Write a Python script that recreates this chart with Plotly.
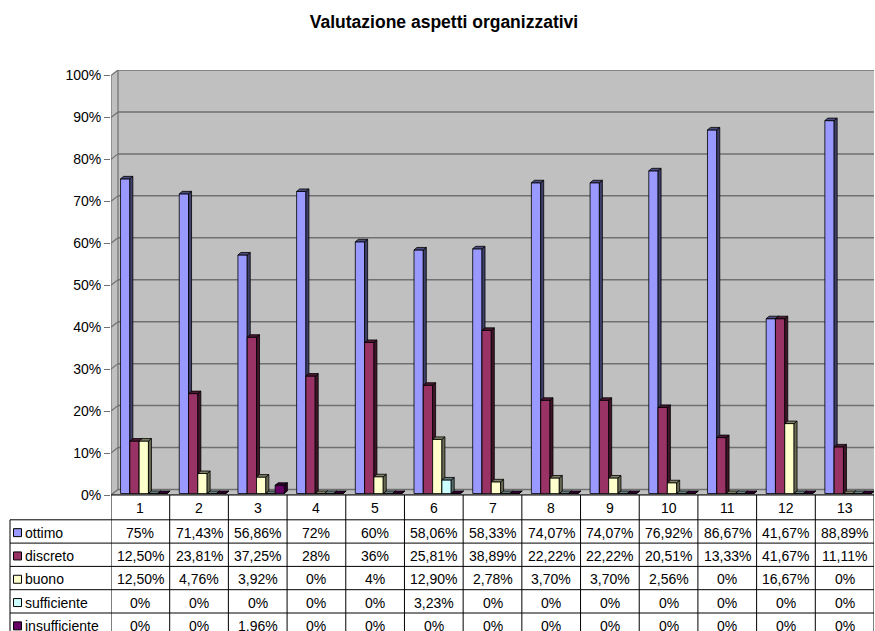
import plotly.graph_objects as go

# ---------------- data ----------------
categories = [str(i) for i in range(1, 14)]
series_names = ["ottimo", "discreto", "buono", "sufficiente", "insufficiente"]
ottimo = [75, 71.43, 56.86, 72, 60, 58.06, 58.33, 74.07, 74.07, 76.92, 86.67, 41.67, 88.89]
discreto = [12.5, 23.81, 37.25, 28, 36, 25.81, 38.89, 22.22, 22.22, 20.51, 13.33, 41.67, 11.11]
buono = [12.5, 4.76, 3.92, 0, 4, 12.9, 2.78, 3.7, 3.7, 2.56, 0, 16.67, 0]
sufficiente = [0, 0, 0, 0, 0, 3.23, 0, 0, 0, 0, 0, 0, 0]
insufficiente = [0, 0, 1.96, 0, 0, 0, 0, 0, 0, 0, 0, 0, 0]
tick_values = [0, 10, 20, 30, 40, 50, 60, 70, 80, 90, 100]
tick_labels = [f"{v}%" for v in tick_values]
title_text = "Valutazione aspetti organizzativi"

series_values = [ottimo, discreto, buono, sufficiente, insufficiente]

# ---------------- style ----------------
colors = ["#9999FF", "#993366", "#FFFFCC", "#CCFFFF", "#660066"]
FONT = "Liberation Sans, Arial, sans-serif"
W, H = 875, 631
ML, MR, MT, MB = 111, 1, 70, 136
PW, PH = W - ML - MR, H - MT - MB
PX_PER_PCT = 4.195
YTOP = PH / PX_PER_PCT
NCAT = len(categories)
PX_PER_CAT = PW / NCAT

WDX = 7 / PX_PER_CAT          # wall depth (x units)
WDY = YTOP - 100              # wall depth (y units)
BW = 9.3 / PX_PER_CAT         # bar width
OFF0 = -19.8 / PX_PER_CAT     # first bar left edge from category centre
BDY = 1.5 / PX_PER_PCT        # bar base lift
DDX = 3.0 / PX_PER_CAT        # bar depth x
DDY = 2.5 / PX_PER_PCT        # bar depth y


def shade(hexc, f):
    h = hexc.lstrip("#")
    r, g, b = (int(h[i:i + 2], 16) for i in (0, 2, 4))
    return "rgb(%d,%d,%d)" % (r * f, g * f, b * f)


def fmt(v):
    if abs(v - round(v)) < 1e-9:
        return "%d%%" % round(v)
    return ("%.2f%%" % v).replace(".", ",")


def py2paper(py):
    return (H - MB - py) / PH


def px2paper(px):
    return (px - ML) / PW


xs = list(range(1, NCAT + 1))
fig = go.Figure()

for i, (name, vals) in enumerate(zip(series_names, series_values)):
    sfx = "" if i == 0 else str(i + 1)
    off = OFF0 + i * BW
    fig.add_trace(go.Bar(
        x=xs, y=vals, base=BDY, width=BW, offset=off, name=name,
        marker=dict(color=colors[i], line=dict(color="black", width=0.8)),
        xaxis="x" + sfx, yaxis="y" + sfx, showlegend=False, hoverinfo="skip"))
    sx, sy, tx, ty = [], [], [], []
    for c, v in zip(xs, vals):
        x0 = c + off
        x1 = x0 + BW
        yt = BDY + v
        sx += [x1, x1, x1 + DDX, x1 + DDX, x1, None]
        sy += [BDY, yt, yt + DDY, BDY + DDY, BDY, None]
        tx += [x0, x1, x1 + DDX, x0 + DDX, x0, None]
        ty += [yt, yt, yt + DDY, yt + DDY, yt, None]
    fig.add_trace(go.Scatter(
        x=sx, y=sy, mode="lines", fill="toself", fillcolor=shade(colors[i], 0.42),
        line=dict(color="black", width=0.8), xaxis="x" + sfx, yaxis="y" + sfx,
        showlegend=False, hoverinfo="skip"))
    fig.add_trace(go.Scatter(
        x=tx, y=ty, mode="lines", fill="toself", fillcolor=shade(colors[i], 0.5),
        line=dict(color="black", width=0.8), xaxis="x" + sfx, yaxis="y" + sfx,
        showlegend=False, hoverinfo="skip"))

shapes = []
WALL = "#C0C0C0"
GRID = "#707070"
x_l, x_r = 0.5, NCAT + 0.5
# back wall
shapes.append(dict(type="rect", xref="x", yref="y", x0=x_l + WDX, x1=x_r, y0=WDY, y1=100 + WDY,
                   fillcolor=WALL, line=dict(width=0), layer="below"))
# side wall
shapes.append(dict(type="path", xref="x", yref="y",
                   path=f"M{x_l},0 L{x_l},100 L{x_l + WDX},{100 + WDY} L{x_l + WDX},{WDY} Z",
                   fillcolor=WALL, line=dict(width=0), layer="below"))
# floor
shapes.append(dict(type="path", xref="x", yref="y",
                   path=f"M{x_l},0 L{x_r},0 L{x_r},{WDY} L{x_l + WDX},{WDY} Z",
                   fillcolor=WALL, line=dict(color=GRID, width=1), layer="below"))
# gridlines
for v in tick_values:
    shapes.append(dict(type="line", xref="x", yref="y", x0=x_l + WDX, x1=x_r, y0=v + WDY, y1=v + WDY,
                       line=dict(color=GRID, width=1.5), layer="below"))
    shapes.append(dict(type="line", xref="x", yref="y", x0=x_l, x1=x_l + WDX, y0=v, y1=v + WDY,
                       line=dict(color=GRID, width=1.2), layer="below"))
# back wall left edge and front axis line
shapes.append(dict(type="line", xref="x", yref="y", x0=x_l + WDX, x1=x_l + WDX, y0=WDY, y1=100 + WDY,
                   line=dict(color=GRID, width=1.2), layer="below"))
shapes.append(dict(type="line", xref="x", yref="y", x0=x_l, x1=x_l, y0=0, y1=100,
                   line=dict(color=GRID, width=1.2), layer="below"))

# ---------------- data table ----------------
HDR_TOP = 495
HDR_BOT = 519.8
ROW_H = 23.3
LEG_L = 10
row_edges = [HDR_BOT + k * ROW_H for k in range(len(series_names) + 1)]
BOTTOM = H + 5
TL = dict(color="black", width=1)

shapes.append(dict(type="line", xref="x", yref="paper", x0=x_l, x1=x_r,
                   y0=py2paper(HDR_TOP), y1=py2paper(HDR_TOP), line=TL))
for k in range(NCAT + 1):
    xv = k + 0.5
    shapes.append(dict(type="line", xref="x", yref="paper", x0=xv, x1=xv,
                       y0=py2paper(HDR_TOP), y1=py2paper(BOTTOM), line=TL))
shapes.append(dict(type="line", xref="paper", yref="paper", x0=px2paper(LEG_L), x1=px2paper(LEG_L),
                   y0=py2paper(HDR_BOT), y1=py2paper(BOTTOM), line=TL))
for ye in row_edges:
    shapes.append(dict(type="line", xref="paper", yref="paper", x0=px2paper(LEG_L), x1=1,
                       y0=py2paper(ye), y1=py2paper(ye), line=TL))

annotations = []
TF = dict(family=FONT, size=14, color="black")
for c, lab in zip(xs, categories):
    annotations.append(dict(x=c, y=py2paper((HDR_TOP + HDR_BOT) / 2 + 0.5), xref="x", yref="paper",
                            text=lab, showarrow=False, font=TF, xanchor="center", yanchor="middle"))
for r, (name, vals) in enumerate(zip(series_names, series_values)):
    ymid = row_edges[r] + ROW_H / 2 + 1.2
    yc = py2paper(ymid)
    for c, v in zip(xs, vals):
        annotations.append(dict(x=c, y=yc, xref="x", yref="paper", text=fmt(v), showarrow=False,
                                font=TF, xanchor="center", yanchor="middle"))
    annotations.append(dict(x=px2paper(23), y=yc, xref="paper", yref="paper", text=name,
                            showarrow=False, font=TF, xanchor="left", yanchor="middle"))
    shapes.append(dict(type="rect", xref="paper", yref="paper",
                       x0=px2paper(13.5), x1=px2paper(21.5),
                       y0=py2paper(ymid - 4), y1=py2paper(ymid + 4),
                       fillcolor=colors[r], line=dict(color="black", width=1)))

layout = dict(
    width=W, height=H,
    margin=dict(l=ML, r=MR, t=MT, b=MB, pad=0),
    paper_bgcolor="white", plot_bgcolor="rgba(0,0,0,0)",
    barmode="overlay",
    title=dict(text="<b>" + title_text + "</b>", x=444 / W, xref="container",
               xanchor="center", y=1 - 22 / H, yanchor="middle",
               font=dict(family=FONT, size=17.5, color="black")),
    xaxis=dict(range=[x_l, x_r], showgrid=False, zeroline=False, showticklabels=False,
               showline=False, ticks="", fixedrange=True),
    yaxis=dict(range=[0, YTOP], tickvals=tick_values, ticktext=tick_labels, ticks="outside",
               ticklen=6, tickcolor=GRID, tickwidth=1.2, showline=False, showgrid=False,
               zeroline=False, tickfont=dict(family=FONT, size=14, color="black"), fixedrange=True),
    shapes=shapes, annotations=annotations, showlegend=False,
)
for k in range(2, len(series_names) + 1):
    layout[f"xaxis{k}"] = dict(range=[x_l, x_r], overlaying="x", anchor=f"y{k}", visible=False,
                               fixedrange=True)
    layout[f"yaxis{k}"] = dict(range=[0, YTOP], overlaying="y", anchor=f"x{k}", visible=False,
                               fixedrange=True)
fig.update_layout(**layout)
fig.write_html("out.html", config={"displayModeBar": False},
               post_script="document.body.style.margin='0';document.body.style.overflow='hidden';")
